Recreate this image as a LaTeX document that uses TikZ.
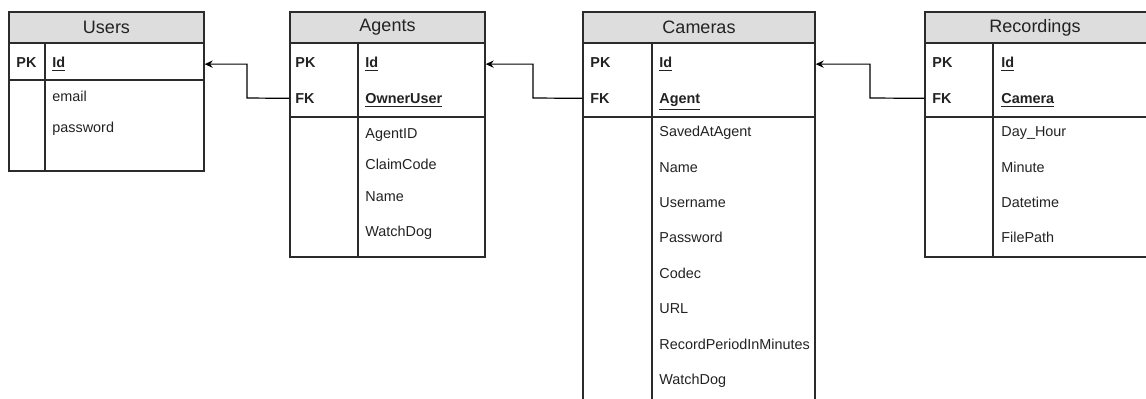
\documentclass[tikz,border=0pt]{standalone}
\usepackage{fontspec}
\setmainfont{Liberation Sans}
\usetikzlibrary{fit,arrows.meta}
\definecolor{hdr}{HTML}{DDDDDD}
\definecolor{ln}{HTML}{2B2B2B}
\definecolor{txt}{HTML}{222222}
\tikzset{
  tbox/.style={draw=ln, line width=0.65pt, inner sep=0pt},
  thead/.style={draw=ln, line width=0.65pt, inner sep=0pt, fill=hdr},
  ttitle/.style={font=\fontsize{9}{10}\selectfont, text=txt, inner sep=0pt},
  key/.style={font=\fontsize{7.2}{8}\selectfont\bfseries, text=txt, anchor=mid west, inner sep=0pt},
  attr/.style={font=\fontsize{7.2}{8}\selectfont, text=txt, anchor=mid west, inner sep=0pt},
  sep/.style={draw=ln, line width=0.65pt},
  fk/.style={draw=black, line width=0.6pt, -{Stealth[length=4pt,width=3.6pt]}}
}
\begin{document}
\begin{tikzpicture}[x=0.5pt,y=-0.5pt]
\useasboundingbox (0,0) rectangle (1146,398);
\clip (0,0) rectangle (1146,398);
% ---------- Users ----------
\node[thead, fit={(9,12)(204,43)}] (usersH) {};
\node[tbox, fit={(9,12)(204,171)}] (users) {};
\node[ttitle] (usersT) at (usersH.center) {Users};
\draw[sep] (45,43) -- (45,171);
\draw[sep] (9,80) -- (204,80);
\node[key] (usPK) at (16,62) {PK};
\node[key] (usId) at (52,62) {\underline{Id}};
\node[attr] (usA1) at (52,96) {email};
\node[attr] (usA2) at (52,127) {password};
% ---------- Agents ----------
\node[thead, fit={(290,12)(485,43)}] (agentsH) {};
\node[tbox, fit={(290,12)(485,257)}] (agents) {};
\node[ttitle] (agentsT) at (agentsH.center) {Agents};
\draw[sep] (358,43) -- (358,257);
\draw[sep] (290,117) -- (485,117);
\node[key] (agPK) at (295,62) {PK};
\node[key] (agId) at (365,62) {\underline{Id}};
\node[key] (agFK) at (295,98) {FK};
\node[key] (agOwner) at (365,98) {\underline{OwnerUser}};
\node[attr] (agA1) at (365,133) {AgentID};
\node[attr] (agA2) at (365,164) {ClaimCode};
\node[attr] (agA3) at (365,196) {Name};
\node[attr] (agA4) at (365,231) {WatchDog};
% ---------- Cameras ----------
\node[thead, fit={(583,12)(815,43)}] (camerasH) {};
\node[tbox, fit={(583,12)(815,430)}] (cameras) {};
\node[ttitle] (camerasT) at (camerasH.center) {Cameras};
\draw[sep] (652,43) -- (652,430);
\draw[sep] (583,117) -- (815,117);
\node[key] (caPK) at (590,62) {PK};
\node[key] (caId) at (659,62) {\underline{Id}};
\node[key] (caFK) at (590,98) {FK};
\node[key] (caAgent) at (659,98) {\underline{Agent}};
\node[attr] (caA1) at (659,131) {SavedAtAgent};
\node[attr] (caA2) at (659,167) {Name};
\node[attr] (caA3) at (659,202) {Username};
\node[attr] (caA4) at (659,237) {Password};
\node[attr] (caA5) at (659,273) {Codec};
\node[attr] (caA6) at (659,308) {URL};
\node[attr] (caA7) at (659,344) {RecordPeriodInMinutes};
\node[attr] (caA8) at (659,379) {WatchDog};
% ---------- Recordings ----------
\node[thead, fit={(925,12)(1160,43)}] (recH) {};
\node[tbox, fit={(925,12)(1160,257)}] (rec) {};
\node[ttitle] (recT) at (1035,27.5) {Recordings};
\draw[sep] (993,43) -- (993,257);
\draw[sep] (925,117) -- (1160,117);
\node[key] (rePK) at (932,62) {PK};
\node[key] (reId) at (1001,62) {\underline{Id}};
\node[key] (reFK) at (932,98) {FK};
\node[key] (reCam) at (1001,98) {\underline{Camera}};
\node[attr] (reA1) at (1001,131) {Day\_Hour};
\node[attr] (reA2) at (1001,167) {Minute};
\node[attr] (reA3) at (1001,202) {Datetime};
\node[attr] (reA4) at (1001,237) {FilePath};
% ---------- Connectors ----------
\draw[fk] (agents.west |- agFK) -- (247,98) |- (users.east |- usId);
\draw[fk] (cameras.west |- caFK) -- (533,98) |- (agents.east |- agId);
\draw[fk] (rec.west |- reFK) -- (870,98) |- (cameras.east |- caId);
\end{tikzpicture}
\end{document}
